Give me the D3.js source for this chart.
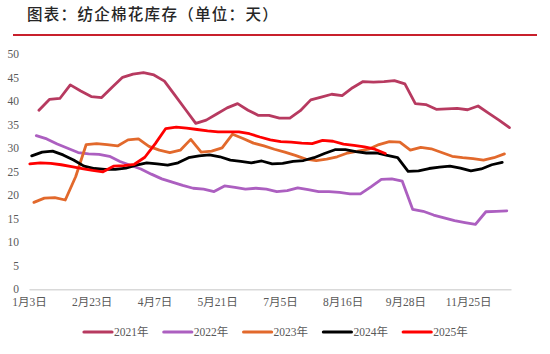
<!DOCTYPE html>
<html>
<head>
<meta charset="utf-8">
<script src="https://cdn.jsdelivr.net/npm/d3@7"></script>
<style>
  body { margin: 0; background: #fff; }
  text { font-family: "Liberation Serif", "Noto Sans CJK SC", serif; }
</style>
</head>
<body>
<div id="chart"></div>
<script>
// Define SVG area dimensions
var svgWidth = 550;
var svgHeight = 354;

// Tick labels on the x axis (one every 6 weeks)
var xLabels = ["1月3日", "2月23日", "4月7日", "5月21日", "7月5日", "8月16日", "9月28日", "11月25日"];
var labelEvery = 6;

// Series names
var years = ["2021年", "2022年", "2023年", "2024年", "2025年"];

// First report of each year, as a fraction of a week after 1月3日
var startWeek = [0.95, 0.7, 0.47, 0.26, 0.08];

// Weekly inventory days
var v2021 = [38.1, 40.4, 40.6, 43.5, 42.2, 41.0, 40.8, 43.0, 45.1, 45.8,
    46.1, 45.6, 44.3, 41.3, 38.3, 35.3, 36.0, 37.3, 38.6, 39.5,
    38.1, 37.0, 37.0, 36.4, 36.4, 38.0, 40.3, 40.9, 41.5, 41.2,
    42.9, 44.2, 44.1, 44.2, 44.4, 43.7, 39.5, 39.3, 38.3, 38.4,
    38.5, 38.2, 39.0, 37.5, 36.0, 34.4];
var v2022 = [32.7, 32.0, 30.9, 30.0, 29.1, 28.8, 28.7, 28.3, 27.2, 26.4,
    25.6, 24.5, 23.5, 22.8, 22.1, 21.5, 21.3, 20.8, 22.0, 21.7,
    21.3, 21.5, 21.3, 20.8, 21.0, 21.6, 21.2, 20.8, 20.8, 20.6,
    20.3, 20.3, 21.8, 23.4, 23.5, 23.0, 17.0, 16.6, 15.8, 15.2,
    14.6, 14.2, 13.8, 16.5, 16.6, 16.7];
var v2023 = [18.5, 19.4, 19.5, 19.0, 24.0, 30.8, 31.0, 30.8, 30.5, 31.8,
    32.0, 30.4, 29.6, 29.1, 29.6, 31.9, 29.2, 29.4, 30.1, 33.0,
    32.1, 31.1, 30.5, 29.8, 29.2, 28.5, 27.7, 27.4, 27.7, 28.2,
    29.0, 29.4, 29.8, 30.8, 31.4, 31.3, 29.6, 30.2, 29.9, 29.1,
    28.3, 28.0, 27.8, 27.5, 28.0, 28.8];
var v2024 = [28.4, 29.2, 29.4, 28.6, 27.5, 26.2, 25.7, 25.5, 25.5, 25.8,
    26.4, 26.9, 26.7, 26.4, 26.9, 28.0, 28.4, 28.6, 28.2, 27.5,
    27.2, 26.9, 27.3, 26.7, 26.8, 27.2, 27.4, 28.0, 28.9, 29.7,
    29.7, 29.3, 29.0, 29.0, 28.5, 28.0, 25.1, 25.2, 25.7, 26.0,
    26.2, 25.8, 25.2, 25.6, 26.5, 27.0];
var v2025 = [26.7, 26.9, 26.8, 26.5, 26.1, 25.7, 25.3, 25.0, 26.2, 26.3,
    26.6, 28.1, 31.0, 34.2, 34.5, 34.3, 34.0, 33.7, 33.5, 33.5,
    33.5, 33.1, 32.4, 31.8, 31.4, 31.3, 31.1, 31.0, 31.7, 31.5,
    30.9, 30.6, 30.3, 29.8, 28.9];

var seriesValues = [v2021, v2022, v2023, v2024, v2025];
var colors = ["#b73a60", "#ac5fc0", "#e2692c", "#000000", "#ff0000"];

// Create the SVG wrapper
var svg = d3.select("#chart")
    .append("svg")
    .attr("width", svgWidth)
    .attr("height", svgHeight);

// Title and red rule under it
svg.append("text")
    .attr("x", 27)
    .attr("y", 20)
    .attr("fill", "#262626")
    .style("font-family", "'Noto Sans CJK SC', sans-serif")
    .style("font-size", "15.5px")
    .style("font-weight", "500")
    .style("letter-spacing", "1.3px")
    .text("图表：纺企棉花库存（单位：天）");

svg.append("line")
    .attr("x1", 13).attr("x2", 537)
    .attr("y1", 35).attr("y2", 35)
    .attr("stroke", "#c8202c")
    .attr("stroke-width", 1.8);

// Scales
var xScale = d3.scaleLinear().domain([0, 46.1]).range([29, 511]);
var yScale = d3.scaleLinear().domain([0, 50]).range([289.3, 54.3]);

// Y axis: labels only
var yAxis = svg.append("g")
    .attr("transform", "translate(29,0)")
    .call(d3.axisLeft(yScale).tickValues(d3.range(0, 51, 5)).tickSize(0).tickPadding(10));
yAxis.select(".domain").remove();
yAxis.selectAll("text")
    .attr("fill", "#595959")
    .style("font-size", "11.5px");

// X axis: grey baseline plus date labels
var xAxis = svg.append("g")
    .attr("transform", `translate(0,${yScale(0)})`)
    .call(d3.axisBottom(xScale)
        .tickValues(xLabels.map((d, i) => i * labelEvery))
        .tickFormat((d, i) => xLabels[i])
        .tickSize(0)
        .tickPadding(9));
xAxis.select(".domain")
    .attr("stroke", "#d9d9d9")
    .attr("stroke-width", 1.5);
xAxis.selectAll("text")
    .attr("fill", "#595959")
    .style("font-size", "11.5px");

// Lines
var line = d3.line()
    .x(d => xScale(d.week))
    .y(d => yScale(d.value));

seriesValues.forEach(function(values, s) {
    var points = values.map((v, k) => ({ week: startWeek[s] + k, value: v }));
    svg.append("path")
        .datum(points)
        .attr("fill", "none")
        .attr("stroke", colors[s])
        .attr("stroke-width", 2.8)
        .attr("stroke-linejoin", "round")
        .attr("stroke-linecap", "round")
        .attr("d", line);
});

// Legend
var legend = svg.append("g")
    .attr("transform", "translate(84,332)");

years.forEach(function(name, s) {
    var item = legend.append("g")
        .attr("transform", `translate(${s * 79.8},0)`);
    item.append("line")
        .attr("x1", 0).attr("x2", 28)
        .attr("stroke", colors[s])
        .attr("stroke-width", 3.2)
        .attr("stroke-linecap", "round");
    item.append("text")
        .attr("x", 30)
        .attr("dy", "0.35em")
        .attr("fill", "#595959")
        .style("font-size", "11.5px")
        .text(name);
});
</script>
</body>
</html>
